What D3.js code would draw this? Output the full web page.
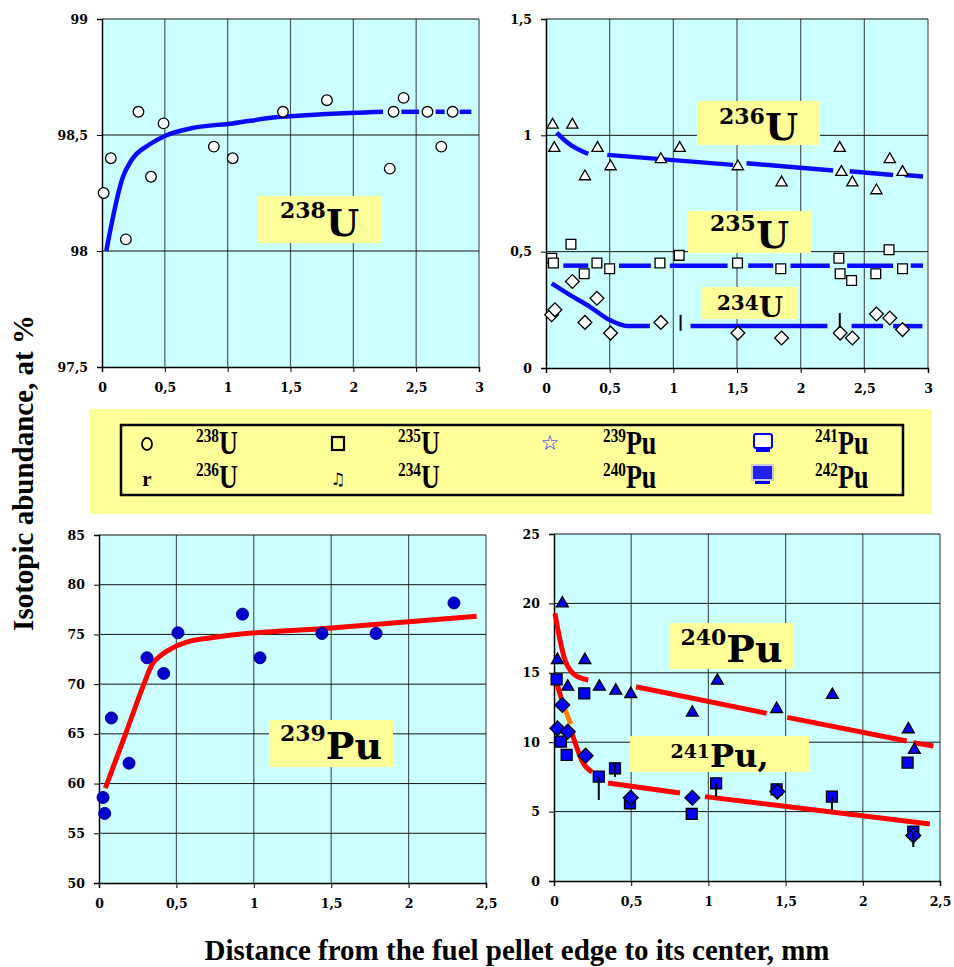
<!DOCTYPE html>
<html>
<head>
<meta charset="utf-8">
<script src="https://cdn.jsdelivr.net/npm/d3@7"></script>
<style>
  body { margin: 0; background: #fff; }
  .tick text { font-family: "DejaVu Serif", serif; font-weight: bold; font-size: 12.5px; fill: #000; }
</style>
</head>
<body>
<div id="chart"></div>
<script>
// tick values
var xTicksU = [0, 0.5, 1, 1.5, 2, 2.5, 3];
var yTicks238 = [97.5, 98, 98.5, 99];
var yTicksU = [0, 0.5, 1, 1.5];
var xTicksPu = [0, 0.5, 1, 1.5, 2, 2.5];
var yTicks239 = [50, 55, 60, 65, 70, 75, 80, 85];
var yTicksPu = [0, 5, 10, 15, 20, 25];

// 238U measured points and fitted curve (segments as drawn)
var u238 = [[0.013,98.25],[0.07,98.40],[0.19,98.05],[0.29,98.60],[0.39,98.32],[0.49,98.55],
  [0.89,98.45],[1.04,98.40],[1.44,98.60],[1.79,98.65],[2.29,98.355],[2.32,98.60],
  [2.40,98.66],[2.59,98.60],[2.70,98.45],[2.79,98.60]];
var fit238 = [
  [[0.034,98.0],[0.167,98.32],[0.233,98.39],[0.38,98.46],[0.5,98.496],[0.72,98.53],[1.04,98.55],[1.36,98.575],[1.79,98.59],[2.236,98.60]],
  [[2.382,98.6],[2.523,98.6]], [[2.655,98.6],[2.727,98.6]], [[2.846,98.6],[2.939,98.6]]
];

// 236U
var u236 = [[0.052,1.045],[0.065,0.945],[0.207,1.045],[0.306,0.823],[0.405,0.945],[0.507,0.866],
  [0.902,0.897],[1.05,0.945],[1.507,0.866],[1.85,0.797],[2.307,0.945],[2.32,0.842],
  [2.406,0.797],[2.595,0.763],[2.70,0.897],[2.80,0.842]];
var fit236 = [
  [[0.084,1.012],[0.175,0.966],[0.332,0.920]],
  [[0.481,0.916],[1.47,0.873]],
  [[1.575,0.880],[2.255,0.849]],
  [[2.385,0.846],[2.726,0.830]],
  [[2.817,0.830],[2.961,0.823]]
];

// 235U
var u235 = [[0.045,0.472],[0.058,0.451],[0.196,0.532],[0.30,0.405],[0.40,0.451],[0.50,0.427],
  [0.895,0.451],[1.046,0.484],[1.504,0.451],[1.844,0.427],[2.30,0.472],[2.31,0.405],
  [2.40,0.376],[2.59,0.405],[2.694,0.508],[2.80,0.427]];
var fit235 = [
  [[0.136,0.44],[0.332,0.44]], [[0.573,0.44],[0.824,0.44]], [[0.973,0.44],[1.426,0.44]],
  [[1.588,0.44],[1.784,0.44]], [[1.92,0.44],[2.229,0.44]], [[2.365,0.44],[2.726,0.44]],
  [[2.864,0.44],[2.961,0.44]]
];

// 234U
var u234 = [[0.044,0.229],[0.07,0.25],[0.207,0.372],[0.306,0.196],[0.40,0.30],[0.507,0.150],
  [0.902,0.196],[1.507,0.150],[1.85,0.129],[2.31,0.150],[2.406,0.129],[2.595,0.232],
  [2.70,0.215],[2.80,0.165]];
var fit234 = [
  [[0.045,0.364],[0.2,0.31],[0.345,0.263],[0.5,0.206],[0.646,0.180],[0.816,0.180]],
  [[1.135,0.18],[2.21,0.18]], [[2.40,0.18],[2.647,0.18]], [[2.726,0.18],[2.956,0.18]]
];
var bars234 = [[1.057,0.228,0.160],[2.307,0.236,0.172]];

// 239Pu
var pu239 = [[0.026,58.6],[0.037,57.0],[0.08,66.6],[0.194,62.05],[0.31,72.65],[0.418,71.08],
  [0.51,75.16],[0.927,77.04],[1.04,72.65],[1.44,75.1],[1.79,75.1],[2.293,78.17]];
var fit239 = [[[0.041,59.54],[0.18,65.36],[0.30,70.4],[0.34,71.9],[0.40,72.9],[0.47,73.6],
  [0.56,74.2],[0.737,74.7],[1.5,75.65],[2.44,76.84]]];

// 240Pu
var pu240 = [[0.022,15.92],[0.054,20.0],[0.089,14.0],[0.20,15.92],[0.294,14.0],[0.40,13.71],
  [0.497,13.47],[0.896,12.13],[1.058,14.43],[1.442,12.39],[1.803,13.4],[2.295,10.93],[2.334,9.44]];
var fit240 = [
  [[0.006,19.29],[0.039,17.36],[0.071,15.92],[0.104,15.2],[0.136,14.84],[0.222,14.48]],
  [[0.531,14.0],[1.377,12.08]],
  [[1.511,11.79],[2.284,10.09]],
  [[2.327,9.97],[2.457,9.73]]
];

// 241Pu (squares) and 242Pu (diamonds)
var pu241 = [[0.017,14.53],[0.045,10.04],[0.082,9.08],[0.196,13.52],[0.29,7.52],[0.395,8.12],
  [0.492,5.6],[0.892,4.83],[1.05,7.04],[1.442,6.6],[1.80,6.08],[2.29,8.53],[2.327,3.55]];
var pu242 = [[0.022,11.0],[0.054,12.68],[0.089,10.76],[0.205,9.03],[0.497,6.0],[0.896,6.0],
  [1.446,6.44],[2.327,3.27]];
var bars241 = [[0.29,7.5,5.84],[0.395,8.57,7.5],[1.05,7.06,6.05],[1.80,6.05,5.1],[2.327,3.53,2.45]];
var fit241 = [
  [[0.013,14.5],[0.035,13.6],[0.06,12.8]],
  [[0.118,10.6],[0.19,8.48],[0.246,7.85]],
  [[0.35,7.06],[0.816,6.34]],
  [[0.978,6.08],[2.435,4.11]]
];
var fit241b = [[[0.065,12.5],[0.11,11.3]]];

// legend entries
var legendSup = ["238", "235", "239", "241", "236", "234", "240", "242"];
var legendMain = ["U", "U", "Pu", "Pu", "U", "U", "Pu", "Pu"];

var svg = d3.select("#chart").append("svg")
  .attr("width", 954).attr("height", 967)
  .style("background", "#fff");

var fmt = function(d){ return String(d).replace(".", ","); };

function makePanel(p) {
  var x = d3.scaleLinear().domain(p.xd).range([p.x0, p.x1]);
  var y = d3.scaleLinear().domain(p.yd).range([p.y1, p.y0]);
  var g = svg.append("g");
  g.append("rect")
    .attr("x", p.x0).attr("y", p.y0)
    .attr("width", p.x1 - p.x0).attr("height", p.y1 - p.y0)
    .attr("fill", "#ccffff");
  g.selectAll("line.vg").data(p.xt.slice(1)).enter().append("line")
    .attr("x1", function(d){ return x(d); }).attr("x2", function(d){ return x(d); })
    .attr("y1", p.y0).attr("y2", p.y1)
    .attr("stroke", "#4a5a5a").attr("stroke-width", 1.2);
  g.selectAll("line.hg").data(p.yt.slice(1)).enter().append("line")
    .attr("x1", p.x0).attr("x2", p.x1)
    .attr("y1", function(d){ return y(d); }).attr("y2", function(d){ return y(d); })
    .attr("stroke", "#111").attr("stroke-width", 1);
  g.append("g")
    .attr("transform", "translate(0," + p.y1 + ")")
    .call(d3.axisBottom(x).tickValues(p.xt).tickSize(5).tickPadding(11).tickFormat(fmt))
    .call(function(a){ a.select(".domain").attr("stroke-width", 1.5); });
  g.append("g")
    .attr("transform", "translate(" + p.x0 + ",0)")
    .call(d3.axisLeft(y).tickValues(p.yt).tickSize(5).tickPadding(9).tickFormat(fmt))
    .call(function(a){ a.select(".domain").attr("stroke-width", 1.5); });
  p.x = x; p.y = y; p.g = g;
  return p;
}

function drawFit(p, segs, color, width) {
  var line = d3.line().x(function(d){ return p.x(d[0]); }).y(function(d){ return p.y(d[1]); })
    .curve(d3.curveMonotoneX);
  p.g.selectAll(null).data(segs).enter().append("path")
    .attr("d", line).attr("fill", "none")
    .attr("stroke", color).attr("stroke-width", width);
}

function drawBars(p, bars) {
  p.g.selectAll(null).data(bars).enter().append("line")
    .attr("x1", function(d){ return p.x(d[0]); }).attr("x2", function(d){ return p.x(d[0]); })
    .attr("y1", function(d){ return p.y(d[1]); }).attr("y2", function(d){ return p.y(d[2]); })
    .attr("stroke", "#000").attr("stroke-width", 2);
}

function drawMarks(p, pts, type, size, fill, stroke, rot) {
  var sym = d3.symbol().type(type).size(size);
  p.g.selectAll(null).data(pts).enter().append("path")
    .attr("d", sym)
    .attr("transform", function(d){ return "translate(" + p.x(d[0]) + "," + p.y(d[1]) + ")" + (rot ? " rotate(45)" : ""); })
    .attr("fill", fill).attr("stroke", stroke).attr("stroke-width", 1.3);
}

function tag(box, sup, main, supSize, mainSize, base, raise) {
  svg.append("rect").attr("x", box[0]).attr("y", box[1])
    .attr("width", box[2]).attr("height", box[3]).attr("fill", "#ffff99");
  var t = svg.append("text").attr("x", box[0] + box[2] / 2).attr("y", base)
    .attr("text-anchor", "middle")
    .attr("font-family", "DejaVu Serif").attr("font-weight", "bold").attr("fill", "#000");
  t.append("tspan").attr("font-size", supSize).attr("dy", -raise).text(sup);
  t.append("tspan").attr("font-size", mainSize).attr("dy", raise).text(main);
}

// panels
var tl = makePanel({x0:102, x1:479, y0:19, y1:367, xd:[0,3], yd:[97.5,99], xt:xTicksU, yt:yTicks238});
var tr = makePanel({x0:546, x1:928, y0:19, y1:368, xd:[0,3], yd:[0,1.5], xt:xTicksU, yt:yTicksU});
var bl = makePanel({x0:99, x1:486, y0:535, y1:883, xd:[0,2.5], yd:[50,85], xt:xTicksPu, yt:yTicks239});
var br = makePanel({x0:554, x1:940, y0:534, y1:881, xd:[0,2.5], yd:[0,25], xt:xTicksPu, yt:yTicksPu});

// 238U
drawFit(tl, fit238, "#0a0aff", 4.5);
tl.g.selectAll(null).data(u238).enter().append("circle")
  .attr("cx", function(d){ return tl.x(d[0]); }).attr("cy", function(d){ return tl.y(d[1]); })
  .attr("r", 5.3).attr("fill", "#fff").attr("stroke", "#000").attr("stroke-width", 1.3);
tag([258,196,123,47], "238", "U", 22, 38, 236, 18);

// 236U, 235U, 234U
drawFit(tr, fit236, "#0a0aff", 4.5);
drawFit(tr, fit235, "#0a0aff", 4.5);
drawFit(tr, fit234, "#0a0aff", 4.5);
drawMarks(tr, u236, d3.symbolTriangle, 55, "#fff", "#000", false);
drawMarks(tr, u235, d3.symbolSquare, 95, "#fff", "#000", false);
drawMarks(tr, u234, d3.symbolSquare, 95, "#fff", "#000", true);
drawBars(tr, bars234);
tag([697,101,123,44], "236", "U", 22, 38, 140, 16);
tag([688,211,123,42], "235", "U", 22, 38, 248, 17);
tag([702,287,96,32], "234", "U", 20, 28, 317, 7);

// 239Pu
drawFit(bl, fit239, "#ff0000", 5);
bl.g.selectAll(null).data(pu239).enter().append("circle")
  .attr("cx", function(d){ return bl.x(d[0]); }).attr("cy", function(d){ return bl.y(d[1]); })
  .attr("r", 6).attr("fill", "#0000cc").attr("stroke", "#00008b").attr("stroke-width", 1);
tag([269,720,124,47], "239", "Pu", 22, 38, 759, 18);

// 240Pu, 241Pu, 242Pu
drawFit(br, fit240, "#ff0000", 5);
drawFit(br, fit241, "#ff0000", 5);
drawFit(br, fit241b, "#ff7f00", 5);
drawMarks(br, pu240, d3.symbolTriangle, 62, "#0000ff", "#000", false);
drawMarks(br, pu241, d3.symbolSquare, 120, "#0000ff", "#000", false);
drawMarks(br, pu242, d3.symbolSquare, 110, "#0000ff", "#000", true);
drawBars(br, bars241);
tag([670,623,123,46], "240", "Pu", 22, 38, 662, 17);
tag([630,736,179,36], "241", "Pu,", 19, 32, 767, 9);

// legend
svg.append("rect").attr("x", 90).attr("y", 409).attr("width", 842).attr("height", 105).attr("fill", "#ffff99");
svg.append("rect").attr("x", 121).attr("y", 425).attr("width", 782).attr("height", 70)
  .attr("fill", "none").attr("stroke", "#000").attr("stroke-width", 2.5);

var colX = [196, 398, 603, 815];
var rowY = [454, 488];
legendSup.forEach(function(s, i) {
  var t = svg.append("text").attr("x", colX[i % 4]).attr("y", rowY[Math.floor(i / 4)])
    .attr("font-family", "Liberation Serif").attr("font-weight", "bold").attr("fill", "#000")
    .attr("transform", "translate(" + colX[i % 4] + "," + rowY[Math.floor(i / 4)] + ") scale(0.9,1.15) translate(" + (-colX[i % 4]) + "," + (-rowY[Math.floor(i / 4)]) + ")");
  t.append("tspan").attr("font-size", 17).attr("dy", -10).text(s);
  t.append("tspan").attr("font-size", 29).attr("dy", 10).text(legendMain[i]);
});

// legend symbols
svg.append("ellipse").attr("cx", 147).attr("cy", 444).attr("rx", 5).attr("ry", 6)
  .attr("fill", "none").attr("stroke", "#000").attr("stroke-width", 1.8);
svg.append("text").attr("x", 147).attr("y", 486).attr("text-anchor", "middle")
  .attr("font-family", "Liberation Serif").attr("font-weight", "bold").attr("font-size", 21).text("r");
svg.append("rect").attr("x", 332).attr("y", 437).attr("width", 12).attr("height", 13)
  .attr("fill", "none").attr("stroke", "#000").attr("stroke-width", 2.2);
svg.append("text").attr("x", 338).attr("y", 485).attr("text-anchor", "middle")
  .attr("font-family", "DejaVu Sans").attr("font-weight", "bold").attr("font-size", 17).text("\u266B");
svg.append("text").attr("x", 550).attr("y", 450).attr("text-anchor", "middle")
  .attr("font-family", "DejaVu Sans").attr("font-size", 21).attr("fill", "#1a1aff").text("\u2606");
// monitor icons
svg.append("rect").attr("x", 754).attr("y", 434).attr("width", 18).attr("height", 14).attr("rx", 2)
  .attr("fill", "#fff").attr("stroke", "#0000ff").attr("stroke-width", 2);
svg.append("rect").attr("x", 756).attr("y", 449).attr("width", 14).attr("height", 3).attr("fill", "#0000ff");
svg.append("rect").attr("x", 752).attr("y", 465).attr("width", 21).attr("height", 15)
  .attr("fill", "#2222ee").attr("stroke", "#c8c8e0").attr("stroke-width", 2);
svg.append("rect").attr("x", 755).attr("y", 481).attr("width", 15).attr("height", 3).attr("fill", "#0000ff");

// axis titles
svg.append("text").attr("transform", "translate(33,473) rotate(-90)")
  .attr("text-anchor", "middle").attr("font-family", "Liberation Serif").attr("font-weight", "bold")
  .attr("font-size", 29).text("Isotopic abundance, at %");
svg.append("text").attr("x", 517).attr("y", 960)
  .attr("text-anchor", "middle").attr("font-family", "Liberation Serif").attr("font-weight", "bold")
  .attr("font-size", 29).text("Distance from the fuel pellet edge to its center, mm");
</script>
</body>
</html>
